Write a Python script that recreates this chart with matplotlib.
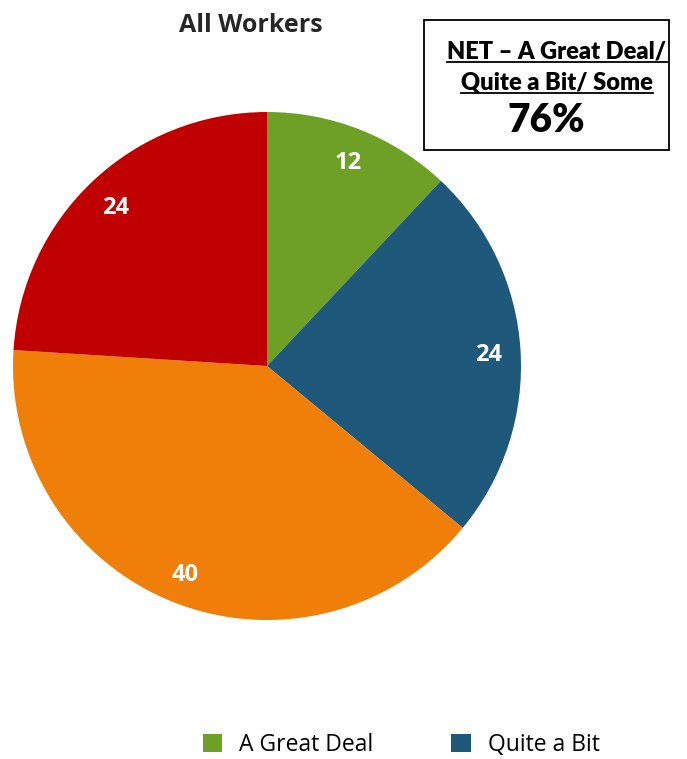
import matplotlib
matplotlib.use("Agg")
import matplotlib.pyplot as plt
from matplotlib.patches import Patch, Rectangle

categories = ["A Great Deal", "Quite a Bit", "Some", "Not at All"]
values = [12, 24, 40, 24]
colors = ["#6EA026", "#1E587B", "#F07F09", "#C00000"]
title = "All Workers"
net_lines = ["NET \u2013 A Great Deal/", "Quite a Bit/ Some"]
net_value = "76%"

W, H = 687, 759
fig = plt.figure(figsize=(W / 100, H / 100), dpi=100)
fig.patch.set_facecolor("white")

cx, cy, r = 267, 366, 254
ax = fig.add_axes([(cx - r) / W, (H - cy - r) / H, 2 * r / W, 2 * r / H])
wedges, texts = ax.pie(values, colors=colors, startangle=90, counterclock=False,
                       labels=[str(v) for v in values], labeldistance=0.872,
                       radius=1.0,
                       textprops=dict(color="white", fontweight="bold",
                                      fontsize=17, family="Open Sans"))
for t in texts:
    t.set_ha("center")
    t.set_va("center_baseline")
ax.set_xlim(-1, 1)
ax.set_ylim(-1, 1)
ax.set_aspect("equal")
ax.axis("off")

fig.text(251 / W, 1 - 26 / H, title, ha="center", va="center",
         fontsize=18, fontweight="bold", color="#262626", family="Open Sans")

# NET box
bx0, by0, bx1, by1 = 424, 20, 669, 150
fig.patches.append(Rectangle((bx0 / W, 1 - by1 / H), (bx1 - bx0) / W, (by1 - by0) / H,
                             transform=fig.transFigure, fill=False,
                             edgecolor="black", linewidth=1.3))
for i, line in enumerate(net_lines):
    yy = [52, 83][i]
    fig.text(557 / W, 1 - yy / H, line, ha="center", va="center",
             fontsize=17, fontweight="heavy", color="black", family="Lato")
fig.text(546 / W, 1 - 120 / H, net_value, ha="center", va="center",
         fontsize=28, fontweight="heavy", color="black", family="Lato")

# underlines under the NET lines
fig.canvas.draw()
renderer = fig.canvas.get_renderer()
for t in fig.texts:
    if t.get_text() in net_lines:
        bb = t.get_window_extent(renderer)
        yline = bb.y0 + 1
        fig.add_artist(plt.Line2D([bb.x0 / W, bb.x1 / W], [yline / H, yline / H],
                                  transform=fig.transFigure, color="black", linewidth=1.3))

handles = [Patch(facecolor=colors[i], edgecolor="none") for i in range(2)]
fig.legend(handles, categories[:2], loc="center left",
           bbox_to_anchor=(182 / W, 1 - 745 / H), ncol=2, frameon=False,
           prop={"family": "Open Sans", "size": 16.5}, handlelength=0.85,
           handleheight=0.85, handletextpad=0.75, columnspacing=3.4)

fig.savefig("out.png", dpi=100, facecolor="white")
